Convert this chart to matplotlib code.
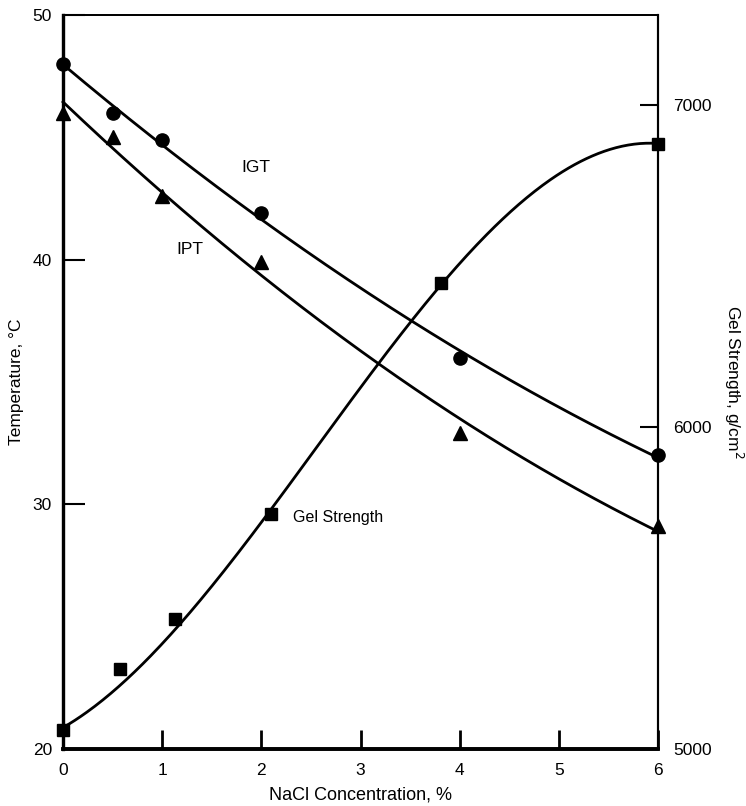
import numpy as np
import matplotlib
matplotlib.use("Agg")
import matplotlib.pyplot as plt
from matplotlib import font_manager

# Measured data
nacl_igt = [0.0, 0.5, 1.0, 2.0, 4.0, 6.0]
igt_temp = [48.0, 46.0, 44.9, 41.9, 36.0, 32.0]

nacl_ipt = [0.0, 0.5, 1.0, 2.0, 4.0, 6.0]
ipt_temp = [46.0, 45.0, 42.6, 39.9, 32.9, 29.1]

nacl_gel = [0.0, 0.57, 1.13, 2.1, 3.81, 6.0]
gel_strength = [5060, 5250, 5405, 5730, 6447, 6880]

x_ticks = [0, 1, 2, 3, 4, 5, 6]
temp_ticks = [20, 30, 40, 50]
gel_ticks = [5000, 6000, 7000]

available = {f.name for f in font_manager.fontManager.ttflist}
tick_family = ["Liberation Sans Narrow"] if "Liberation Sans Narrow" in available else ["Liberation Sans"]
plt.rcParams["font.family"] = ["Liberation Sans", "DejaVu Sans"]

fig = plt.figure(figsize=(7.46, 8.06), dpi=100)
ax = fig.add_axes([0.0845, 0.0707, 0.7975, 0.9107])
ax2 = ax.twinx()

ax.set_xlim(0, 6)
ax.set_ylim(20, 50)
ax2.set_ylim(5000, 7280)

# Smooth fitted curves
xs = np.linspace(0, 6, 300)
igt_fit = np.polyval(np.polyfit(nacl_igt, igt_temp, 2), xs)
ipt_fit = np.polyval(np.polyfit(nacl_ipt, ipt_temp, 2), xs)
gel_weights = [3, 1.1, 1.6, 3, 3, 3]
gel_fit = np.polyval(np.polyfit(nacl_gel, gel_strength, 3, w=gel_weights), xs)

lw = 2.0
ax.plot(xs, igt_fit, color="black", lw=lw, clip_on=False)
ax.plot(xs, ipt_fit, color="black", lw=lw, clip_on=False)
ax2.plot(xs, gel_fit, color="black", lw=lw, clip_on=False)

ax.plot(nacl_igt, igt_temp, "o", color="black", ms=9.5, clip_on=False, zorder=5)
ax.plot(nacl_ipt, ipt_temp, "^", color="black", ms=9.5, clip_on=False, zorder=5)
ax2.plot(nacl_gel, gel_strength, "s", color="black", ms=8.5, clip_on=False, zorder=5)

ax.text(1.94, 43.75, "IGT", fontsize=12.5, ha="center", va="center")
ax.text(1.28, 40.4, "IPT", fontsize=12.5, ha="center", va="center")
ax2.text(2.32, 5720, "Gel Strength", fontsize=11.5, ha="left", va="center")

# Axes styling
for side, w in [("left", 2.3), ("bottom", 2.6), ("top", 1.3), ("right", 1.5)]:
    ax.spines[side].set_linewidth(w)
    ax2.spines[side].set_linewidth(w)

ax.set_xticks(x_ticks)
ax.set_yticks(temp_ticks)
ax2.set_yticks(gel_ticks)

ax.tick_params(axis="x", direction="in", length=14, width=2, pad=10, labelsize=12.5, top=False)
ax.tick_params(axis="y", direction="in", length=16, width=1.5, pad=8, labelsize=12.5, right=False)
ax2.tick_params(axis="y", direction="in", length=13, width=1.5, pad=11, labelsize=12.5)

for lab in ax.get_xticklabels() + ax.get_yticklabels() + ax2.get_yticklabels():
    lab.set_family(tick_family)

ax.set_xlabel("NaCl Concentration, %", fontsize=13, labelpad=6, family=tick_family)
ax.set_ylabel("Temperature, °C", fontsize=12.5, labelpad=6)
ax2.set_ylabel("Gel Strength, g/cm$^2$", fontsize=12.5, rotation=270, labelpad=24)

fig.savefig("out.png", dpi=100)
